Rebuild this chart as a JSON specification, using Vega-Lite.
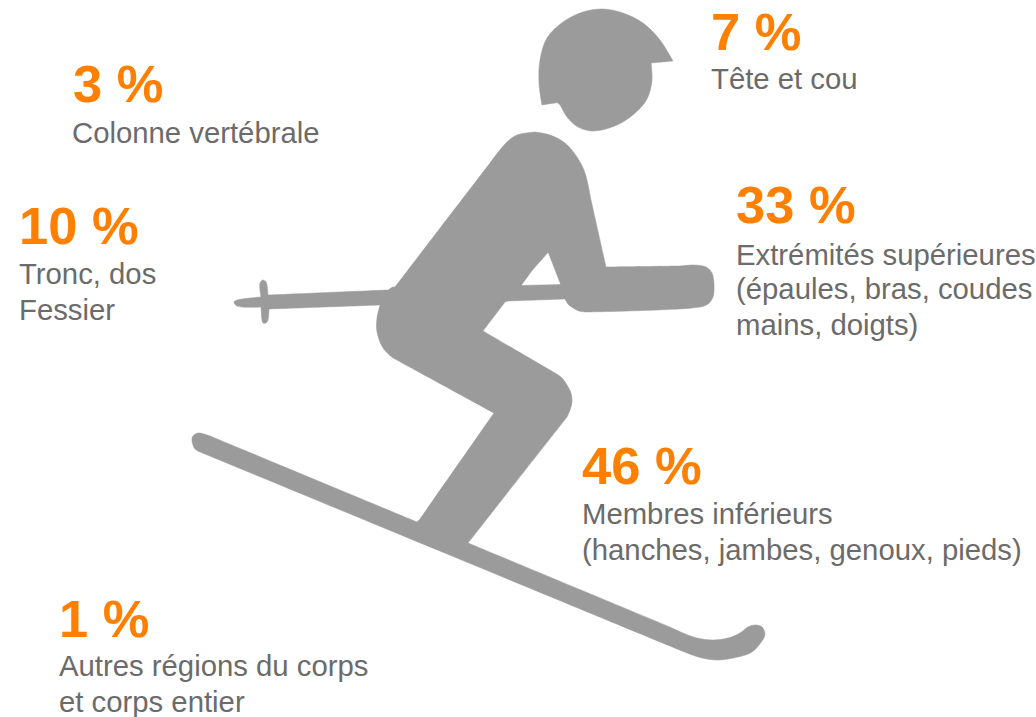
{"$schema":"https://vega.github.io/schema/vega-lite/v6.json","width":1036,"height":717,"padding":0,"autosize":{"type":"none"},"background":"white","view":{"stroke":null},
"datasets":{
"head":[{"i":0,"x":542,"y":105},{"i":1,"x":542,"y":105},{"i":3,"x":539,"y":83},{"i":5,"x":540,"y":60},{"i":7,"x":547,"y":38},{"i":9,"x":563,"y":22},{"i":11,"x":583,"y":12},{"i":13,"x":603,"y":9},{"i":15,"x":623,"y":13},{"i":17,"x":643,"y":23},{"i":19,"x":660,"y":40},{"i":21,"x":673,"y":61},{"i":22,"x":673,"y":61},{"i":23,"x":651,"y":63},{"i":24,"x":651,"y":63},{"i":26,"x":652,"y":80},{"i":28,"x":647,"y":99},{"i":30,"x":634,"y":114},{"i":32,"x":617,"y":125},{"i":34,"x":593,"y":131},{"i":36,"x":578,"y":127},{"i":38,"x":567,"y":117},{"i":40,"x":560,"y":105},{"i":41,"x":558,"y":103},{"i":42,"x":555,"y":103},{"i":43,"x":542,"y":105},{"i":44,"x":542,"y":105}],
"body":[{"i":0,"x":535,"y":132},{"i":1,"x":550,"y":135},{"i":2,"x":565,"y":143},{"i":3,"x":577,"y":157},{"i":4,"x":585,"y":173},{"i":5,"x":591,"y":200},{"i":6,"x":591,"y":200},{"i":7,"x":606,"y":267},{"i":8,"x":606,"y":267},{"i":9,"x":680,"y":266},{"i":10,"x":680,"y":266},{"i":11,"x":694,"y":265},{"i":12,"x":706,"y":267},{"i":13,"x":712,"y":273},{"i":14,"x":714,"y":285},{"i":15,"x":713,"y":297},{"i":16,"x":708,"y":304},{"i":17,"x":700,"y":307},{"i":24,"x":587,"y":312},{"i":25,"x":587,"y":312},{"i":26,"x":579,"y":311},{"i":27,"x":573,"y":308},{"i":28,"x":568,"y":304},{"i":29,"x":565,"y":299},{"i":30,"x":565,"y":299},{"i":31,"x":508,"y":301},{"i":32,"x":508,"y":301},{"i":33,"x":505,"y":302},{"i":34,"x":505,"y":302},{"i":35,"x":483,"y":331},{"i":36,"x":483,"y":331},{"i":37,"x":555,"y":373},{"i":38,"x":555,"y":373},{"i":39,"x":562,"y":378},{"i":40,"x":567,"y":385},{"i":41,"x":571,"y":393},{"i":42,"x":572,"y":402},{"i":43,"x":570,"y":410},{"i":44,"x":567,"y":417},{"i":45,"x":567,"y":417},{"i":46,"x":468,"y":543},{"i":47,"x":468,"y":543},{"i":48,"x":670,"y":627},{"i":49,"x":670,"y":627},{"i":50,"x":683,"y":633},{"i":51,"x":697,"y":638},{"i":52,"x":713,"y":640},{"i":53,"x":728,"y":638},{"i":54,"x":740,"y":633},{"i":55,"x":748,"y":627},{"i":56,"x":755,"y":625},{"i":57,"x":762,"y":627},{"i":58,"x":765,"y":634},{"i":59,"x":762,"y":641},{"i":60,"x":752,"y":652},{"i":61,"x":738,"y":657},{"i":62,"x":718,"y":660},{"i":63,"x":702,"y":658},{"i":64,"x":687,"y":653},{"i":65,"x":670,"y":646},{"i":66,"x":670,"y":646},{"i":71,"x":200,"y":452},{"i":72,"x":200,"y":452},{"i":73,"x":195,"y":449},{"i":74,"x":193,"y":445},{"i":76,"x":192,"y":438},{"i":77,"x":194,"y":435},{"i":78,"x":198,"y":433},{"i":79,"x":204,"y":434},{"i":80,"x":210,"y":436},{"i":81,"x":210,"y":436},{"i":82,"x":417,"y":522},{"i":83,"x":417,"y":522},{"i":84,"x":420,"y":519},{"i":85,"x":420,"y":519},{"i":86,"x":494,"y":413},{"i":87,"x":494,"y":413},{"i":88,"x":393,"y":358},{"i":89,"x":393,"y":358},{"i":91,"x":383,"y":348},{"i":93,"x":377,"y":332},{"i":95,"x":377,"y":318},{"i":97,"x":380,"y":305},{"i":98,"x":380,"y":305},{"i":99,"x":269,"y":309},{"i":100,"x":269,"y":309},{"i":101,"x":268,"y":320},{"i":102,"x":266,"y":323},{"i":103,"x":263,"y":323},{"i":104,"x":262,"y":320},{"i":105,"x":261,"y":307},{"i":106,"x":261,"y":307},{"i":107,"x":237,"y":306},{"i":108,"x":234,"y":302},{"i":109,"x":237,"y":300},{"i":110,"x":261,"y":297},{"i":111,"x":261,"y":297},{"i":112,"x":260,"y":283},{"i":113,"x":263,"y":280},{"i":114,"x":266,"y":282},{"i":115,"x":267,"y":285},{"i":116,"x":268,"y":295},{"i":117,"x":268,"y":295},{"i":118,"x":388,"y":290},{"i":119,"x":388,"y":290},{"i":120,"x":393,"y":287},{"i":121,"x":395,"y":287},{"i":122,"x":395,"y":287},{"i":123,"x":490,"y":163},{"i":124,"x":490,"y":163},{"i":125,"x":507,"y":142},{"i":126,"x":517,"y":135},{"i":128,"x":535,"y":132}],
"hole":[{"i":0,"x":548,"y":253},{"i":1,"x":548,"y":253},{"i":2,"x":560,"y":284},{"i":3,"x":560,"y":284},{"i":4,"x":522,"y":285},{"i":5,"x":522,"y":285},{"i":6,"x":533,"y":270},{"i":7,"x":548,"y":253},{"i":8,"x":548,"y":253}],
"labels":[
{"x":711,"y":50,"t":"7 %","k":"p"},{"x":711,"y":89,"t":"Tête et cou","k":"l"},
{"x":73,"y":102,"t":"3 %","k":"p"},{"x":72,"y":143,"t":"Colonne vertébrale","k":"l"},
{"x":19,"y":244,"t":"10 %","k":"p"},{"x":19,"y":284,"t":"Tronc, dos","k":"l"},{"x":19,"y":320,"t":"Fessier","k":"l"},
{"x":736,"y":223,"t":"33 %","k":"p"},{"x":736,"y":265,"t":"Extrémités supérieures","k":"l"},{"x":736,"y":299,"t":"(épaules, bras, coudes","k":"l"},{"x":736,"y":335,"t":"mains, doigts)","k":"l"},
{"x":582,"y":484,"t":"46 %","k":"p"},{"x":582,"y":524,"t":"Membres inférieurs","k":"l"},{"x":582,"y":560,"t":"(hanches, jambes, genoux, pieds)","k":"l"},
{"x":59,"y":637,"t":"1 %","k":"p"},{"x":59,"y":676,"t":"Autres régions du corps","k":"l"},{"x":59,"y":712,"t":"et corps entier","k":"l"}
]},
"data":{"name":"labels"},
"encoding":{"x":{"field":"x","type":"quantitative","scale":{"domain":[0,1036],"nice":false,"zero":false},"axis":null},"y":{"field":"y","type":"quantitative","scale":{"domain":[717,0],"nice":false,"zero":false},"axis":null}},
"layer":[
{"data":{"name":"body"},"mark":{"type":"line","interpolate":"catmull-rom","filled":true,"fill":"#9b9b9b","stroke":"#9b9b9b","strokeWidth":0.5},"encoding":{"order":{"field":"i","type":"quantitative"}}},
{"data":{"name":"head"},"mark":{"type":"line","interpolate":"catmull-rom","filled":true,"fill":"#9b9b9b","stroke":"#9b9b9b","strokeWidth":0.5},"encoding":{"order":{"field":"i","type":"quantitative"}}},
{"data":{"name":"hole"},"mark":{"type":"line","filled":true,"fill":"white","stroke":"white","strokeWidth":0.5},"encoding":{"order":{"field":"i","type":"quantitative"}}},
{"transform":[{"filter":"datum.k==='p'"}],"mark":{"type":"text","align":"left","baseline":"alphabetic","font":"Liberation Sans","fontWeight":"bold","fontSize":52.5,"fill":"#ff8000"},"encoding":{"text":{"field":"t"}}},
{"transform":[{"filter":"datum.k==='l'"}],"mark":{"type":"text","align":"left","baseline":"alphabetic","font":"Liberation Sans","fontSize":29.3,"fill":"#6b6b6b"},"encoding":{"text":{"field":"t"}}}
],"config":{"style":{"cell":{"stroke":null}}}}
